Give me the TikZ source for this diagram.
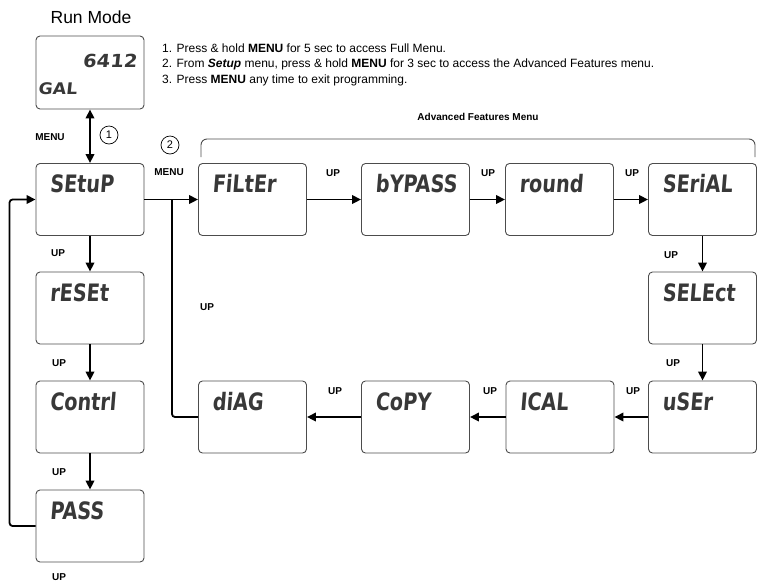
\documentclass[tikz,border=0pt]{standalone}
\usepackage{fontspec}
\usepackage{graphicx}
\setmainfont{Liberation Sans}
\newfontfamily\lcd{DejaVu Sans Bold}[FakeSlant=0.1]
\newcommand{\lcdsq}[1]{\scalebox{0.8}[1]{#1}}
\newcommand{\lcdwd}[1]{\scalebox{1.08}[1]{#1}}
\usetikzlibrary{arrows.meta,calc}
\begin{document}
\begin{tikzpicture}[x=1pt,y=-1pt,
  box/.style={draw=black!70, line width=0.9pt, rounded corners=4pt, minimum width=108pt, minimum height=72pt, inner sep=0pt},
  lcdtxt/.style={anchor=west, inner sep=0pt, text=black!78, text height=17.5pt, text depth=0pt, font=\lcd\fontsize{24}{24}\selectfont},
  lbl/.style={font=\bfseries\fontsize{10}{12}\selectfont, inner sep=0pt},
  note/.style={anchor=west, inner sep=0pt, font=\fontsize{12}{14}\selectfont},
  tip/.style={-{Triangle[length=9pt,width=8.5pt]}},
  conn/.style={line width=1.8pt, tip},
  wire/.style={line width=1.8pt},
  num/.style={circle, draw=black, line width=0.7pt, minimum size=18pt, inner sep=0pt, font=\fontsize{11}{11}\selectfont},
  bracket/.style={draw=black!70, line width=0.9pt, rounded corners=6pt}
]
\useasboundingbox (0,0) rectangle (757,582);

% title and notes
\node[font=\fontsize{17.5}{19}\selectfont, inner sep=0pt] (title) at (91,17) {Run Mode};
\node[note] (n1) at (162,48) {1. Press \& hold \textbf{MENU} for 5 sec to access Full Menu.};
\node[note] (n2) at (162,64) {2. From \textbf{\itshape Setup} menu, press \& hold \textbf{MENU} for 3 sec to access the Advanced Features menu.};
\node[note] (n3) at (162,80) {3. Press \textbf{MENU} any time to exit programming.};

% run mode display
\node[box, minimum height=73pt] (run) at (90,72.5) {};
\node[anchor=east, inner sep=0pt, text=black!78, font=\lcd\fontsize{18}{18}\selectfont] (runv) at (137,61) {\lcdwd{6412}};
\node[anchor=west, inner sep=0pt, text=black!78, font=\lcd\fontsize{16}{16}\selectfont] (runu) at (38,89) {\lcdwd{GAL}};

% left column
\node[box] (setup) at (90,199.5) {};
\node[box] (reset) at (90,308) {};
\node[box] (contrl) at (90,417) {};
\node[box] (pass) at (90,526) {};

% top row
\node[box] (filter) at (252.5,199.5) {};
\node[box] (bypass) at (415.5,199.5) {};
\node[box] (round) at (559.5,199.5) {};
\node[box] (serial) at (702.5,199.5) {};

% right column
\node[box] (select) at (702.5,308) {};
\node[box] (user) at (702.5,417) {};

% bottom row
\node[box] (ical) at (560,417) {};
\node[box] (copy) at (415.5,417) {};
\node[box] (diag) at (252.5,417) {};

% display texts
\foreach \b/\t in {setup/SEtuP, reset/rESEt, contrl/Contrl, pass/PASS, filter/FiLtEr, bypass/bYPASS, round/round, serial/SEriAL, select/SELEct, user/uSEr, ical/ICAL, copy/CoPY, diag/diAG}
  \node[lcdtxt] (\b T) at ($(\b.north west)+(14,21)$) {\lcdsq{\t}};

% brace over advanced menu
\node[font=\bfseries\fontsize{10}{12}\selectfont, inner sep=0pt] (adv) at (478,117) {Advanced Features Menu};
\draw[bracket] (201,157) -- (201,139) -- (755,139) -- (755,157);

% circles and menu labels
\node[num] (c1) at (109,135) {1};
\node[num] (c2) at (170,145) {2};
\node[lbl] (m1) at (50,137) {MENU};
\node[lbl] (m2) at (169,172) {MENU};

% connectors
\draw[wire, {Triangle[length=9pt,width=8.5pt]}-{Triangle[length=9pt,width=8.5pt]}] (run.south) -- (setup.north);
\draw[conn] (setup.south) -- (reset.north);
\draw[conn] (reset.south) -- (contrl.north);
\draw[conn] (contrl.south) -- (pass.north);
\draw[conn, rounded corners=3pt] (pass.west) -- ++(-26,0) |- (setup.west);
\coordinate (merge) at (172,199.5);
\draw[conn] (setup.east) -- (filter.west);
\draw[wire, rounded corners=3pt] (diag.west) -| (merge);
\draw[conn] (filter.east) -- (bypass.west);
\draw[conn] (bypass.east) -- (round.west);
\draw[conn] (round.east) -- (serial.west);
\draw[conn] (serial.south) -- (select.north);
\draw[conn] (select.south) -- (user.north);
\draw[conn] (user.west) -- (ical.east);
\draw[conn] (ical.west) -- (copy.east);
\draw[conn] (copy.west) -- (diag.east);

% UP labels
\node[lbl] (u1) at (58,253) {UP};
\node[lbl] (u2) at (59,363) {UP};
\node[lbl] (u3) at (59,472) {UP};
\node[lbl] (u4) at (59,577) {UP};
\node[lbl] (u5) at (207,307) {UP};
\node[lbl] (u6) at (333,173) {UP};
\node[lbl] (u7) at (488,173) {UP};
\node[lbl] (u8) at (632,173) {UP};
\node[lbl] (u9) at (671,255) {UP};
\node[lbl] (u10) at (673,363) {UP};
\node[lbl] (u11) at (335,391) {UP};
\node[lbl] (u12) at (490,391) {UP};
\node[lbl] (u13) at (633,391) {UP};
\end{tikzpicture}
\end{document}
